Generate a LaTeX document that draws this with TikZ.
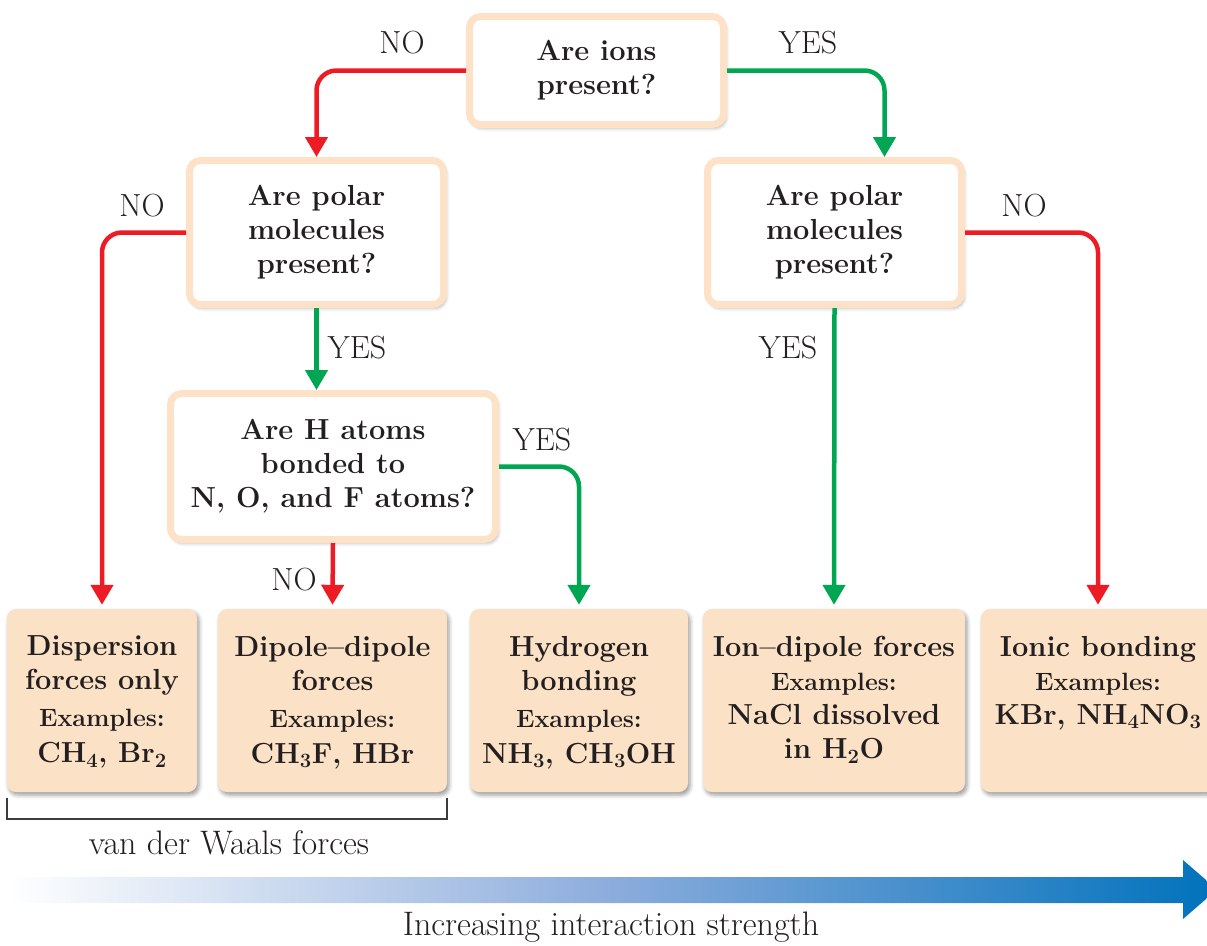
\documentclass[tikz,border=0pt]{standalone}
\usetikzlibrary{arrows.meta,shadows.blur}
\definecolor{arrRed}{RGB}{237,28,36}
\definecolor{arrGreen}{RGB}{0,166,81}
\definecolor{peachLine}{RGB}{253,226,200}
\definecolor{peachFill}{RGB}{251,225,198}
\definecolor{bluEnd}{RGB}{0,114,188}
\definecolor{bluMid}{RGB}{140,172,220}
\definecolor{txt}{RGB}{35,31,32}
\definecolor{brk}{RGB}{60,60,60}
\begin{document}
\begin{tikzpicture}[x=1pt,y=-1pt,
  myshadow/.style={blur shadow={shadow xshift=2pt, shadow yshift=-3pt, shadow blur radius=4pt, shadow opacity=40}},
  qbox/.style={draw=peachLine, line width=7pt, fill=white, rounded corners=11pt, align=center, inner sep=0pt,
    font=\fontsize{29}{34}\selectfont\bfseries, text=txt, myshadow},
  resbox/.style={fill=peachFill, rounded corners=9pt, minimum height=183pt, inner sep=0pt, myshadow},
  restext/.style={align=center, inner sep=0pt, font=\fontsize{29}{34}\selectfont\bfseries, text=txt, anchor=north},
  lab/.style={font=\fontsize{32}{38}\selectfont, text=txt, inner sep=0pt},
  biglab/.style={font=\fontsize{34}{40}\selectfont, text=txt, inner sep=0pt},
  redarr/.style={draw=arrRed, line width=4.5pt, rounded corners=20pt, -{Triangle[width=22pt,length=20pt]}},
  grnarr/.style={draw=arrGreen, line width=4.5pt, rounded corners=20pt, -{Triangle[width=22pt,length=20pt]}}
]
\useasboundingbox (0,0) rectangle (1207,945);

% question boxes
\node[qbox, minimum width=254pt, minimum height=108pt] (q1) at (596.5,70.5) {Are ions\\present?};
\node[qbox, minimum width=254pt, minimum height=144pt] (q2) at (316.5,232.5) {Are polar\\molecules\\present?};
\node[qbox, minimum width=254pt, minimum height=144pt] (q3) at (834.5,232.5) {Are polar\\molecules\\present?};
\node[qbox, minimum width=325pt, minimum height=146pt] (q4) at (333,466.5) {Are H atoms\\bonded to\\N, O, and F atoms?};

% result boxes
\node[resbox, minimum width=190pt] (b1) at (102,700.5) {};
\node[resbox, minimum width=229pt] (b2) at (332.5,700.5) {};
\node[resbox, minimum width=218pt] (b3) at (579,700.5) {};
\node[resbox, minimum width=262pt] (b4) at (834,700.5) {};
\node[resbox, minimum width=234pt] (b5) at (1098,700.5) {};

\node[restext] (t1) at ([yshift=-27pt]b1.north) {Dispersion\\forces only\\[3pt]{\fontsize{25}{35}\selectfont Examples:}\\[2pt]CH\textsubscript{4}, Br\textsubscript{2}};
\node[restext] (t2) at ([yshift=-27pt]b2.north) {Dipole--dipole\\forces\\[3pt]{\fontsize{25}{35}\selectfont Examples:}\\[2pt]CH\textsubscript{3}F, HBr};
\node[restext] (t3) at ([yshift=-27pt]b3.north) {Hydrogen\\bonding\\[3pt]{\fontsize{25}{35}\selectfont Examples:}\\[2pt]NH\textsubscript{3}, CH\textsubscript{3}OH};
\node[restext] (t4) at ([yshift=-27pt]b4.north) {Ion--dipole forces\\{\fontsize{25}{35}\selectfont Examples:}\\NaCl dissolved\\in H\textsubscript{2}O};
\node[restext] (t5) at ([yshift=-27pt]b5.north) {Ionic bonding\\{\fontsize{25}{35}\selectfont Examples:}\\KBr, NH\textsubscript{4}NO\textsubscript{3}};

% connectors
\draw[redarr] (q1.west) -| (q2.north);
\draw[grnarr] (q1.east) -| ([xshift=50pt]q3.north);
\draw[redarr] (q2.west) -| ([yshift=4pt]b1.north);
\draw[grnarr] (q2.south) -- (q2.south |- q4.north);
\draw[redarr] (q4.south) -- ([yshift=4pt]b2.north);
\draw[grnarr] (q4.east) -| ([yshift=4pt]b3.north);
\draw[grnarr] (q3.south) -- ([yshift=4pt]b4.north);
\draw[redarr] (q3.east) -| ([yshift=4pt]b5.north);

% labels
\node[lab] (l1) at (402,43) {NO};
\node[lab] (l2) at (808,43) {YES};
\node[lab] (l3) at (142,206) {NO};
\node[lab] (l4) at (357,348) {YES};
\node[lab] (l5) at (542,440) {YES};
\node[lab] (l6) at (294,580) {NO};
\node[lab] (l7) at (1024,206) {NO};
\node[lab] (l8) at (788,348) {YES};

% bracket
\coordinate (bl) at (7,798);
\coordinate (br) at (447,798);
\draw[brk, line width=1.5pt] (bl) -- (7,819) -- (447,819) -- (br);
\node[biglab] (vdw) at (229,843) {van der Waals forces};

% strength arrow
\shade[left color=white, right color=bluEnd, middle color=bluMid]
  (10,877) -- (1183,877) -- (1183,860) -- (1217,889.5) -- (1183,919) -- (1183,903) -- (10,903) -- cycle;
\node[biglab] (inc) at (611,927) {Increasing interaction strength};
\end{tikzpicture}
\end{document}
